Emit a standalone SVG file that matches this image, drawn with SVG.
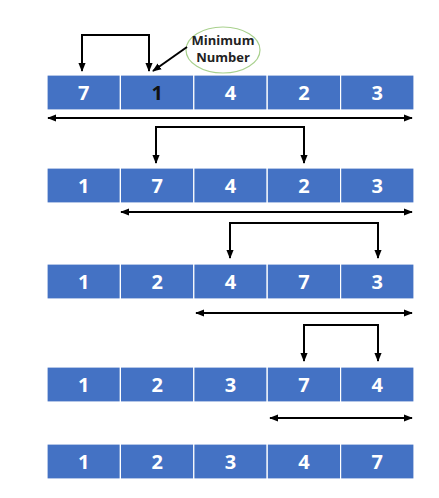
<svg xmlns="http://www.w3.org/2000/svg" width="439" height="498" viewBox="0 0 439 498">
<defs>
<marker id="ah" viewBox="0 0 10 10" refX="9" refY="5" markerWidth="4.5" markerHeight="4.5" orient="auto-start-reverse">
<path d="M0,1 L10,5 L0,9 z" fill="#000"/>
</marker>
<style>
.cell{fill:#4472C4;stroke:#ffffff;stroke-width:1.2}
.num{font-family:"Open Sans","Liberation Sans",sans-serif;font-weight:bold;font-size:20px;fill:#fff;text-anchor:middle}
.ln{fill:none;stroke:#000;stroke-width:2}
.lbl{font-family:"Open Sans","Liberation Sans",sans-serif;font-weight:bold;font-size:13px;fill:#222;text-anchor:middle}
</style>
</defs>
<rect width="439" height="498" fill="#fff"/>
<g id="row1">
<rect class="cell" x="47" y="75" width="73.4" height="35"/><rect class="cell" x="120.4" y="75" width="73.4" height="35"/><rect class="cell" x="193.8" y="75" width="73.4" height="35"/><rect class="cell" x="267.2" y="75" width="73.4" height="35"/><rect class="cell" x="340.6" y="75" width="73.4" height="35"/>
<text class="num" x="83.7" y="100">7</text><text class="num" x="157.1" y="100" style="fill:#111">1</text><text class="num" x="230.5" y="100">4</text><text class="num" x="303.9" y="100">2</text><text class="num" x="377.3" y="100">3</text>
</g>
<g id="row2">
<rect class="cell" x="47" y="168" width="73.4" height="35"/><rect class="cell" x="120.4" y="168" width="73.4" height="35"/><rect class="cell" x="193.8" y="168" width="73.4" height="35"/><rect class="cell" x="267.2" y="168" width="73.4" height="35"/><rect class="cell" x="340.6" y="168" width="73.4" height="35"/>
<text class="num" x="83.7" y="193">1</text><text class="num" x="157.1" y="193">7</text><text class="num" x="230.5" y="193">4</text><text class="num" x="303.9" y="193">2</text><text class="num" x="377.3" y="193">3</text>
</g>
<g id="row3">
<rect class="cell" x="47" y="264" width="73.4" height="35"/><rect class="cell" x="120.4" y="264" width="73.4" height="35"/><rect class="cell" x="193.8" y="264" width="73.4" height="35"/><rect class="cell" x="267.2" y="264" width="73.4" height="35"/><rect class="cell" x="340.6" y="264" width="73.4" height="35"/>
<text class="num" x="83.7" y="289">1</text><text class="num" x="157.1" y="289">2</text><text class="num" x="230.5" y="289">4</text><text class="num" x="303.9" y="289">7</text><text class="num" x="377.3" y="289">3</text>
</g>
<g id="row4">
<rect class="cell" x="47" y="367" width="73.4" height="35"/><rect class="cell" x="120.4" y="367" width="73.4" height="35"/><rect class="cell" x="193.8" y="367" width="73.4" height="35"/><rect class="cell" x="267.2" y="367" width="73.4" height="35"/><rect class="cell" x="340.6" y="367" width="73.4" height="35"/>
<text class="num" x="83.7" y="392">1</text><text class="num" x="157.1" y="392">2</text><text class="num" x="230.5" y="392">3</text><text class="num" x="303.9" y="392">7</text><text class="num" x="377.3" y="392">4</text>
</g>
<g id="row5">
<rect class="cell" x="47" y="444" width="73.4" height="35"/><rect class="cell" x="120.4" y="444" width="73.4" height="35"/><rect class="cell" x="193.8" y="444" width="73.4" height="35"/><rect class="cell" x="267.2" y="444" width="73.4" height="35"/><rect class="cell" x="340.6" y="444" width="73.4" height="35"/>
<text class="num" x="83.7" y="469">1</text><text class="num" x="157.1" y="469">2</text><text class="num" x="230.5" y="469">3</text><text class="num" x="303.9" y="469">4</text><text class="num" x="377.3" y="469">7</text>
</g>
<g id="callout">
<ellipse cx="223" cy="50" rx="37" ry="23" fill="#fff" stroke="#a9d18e" stroke-width="1.2"/>
<text class="lbl" x="223" y="45">Minimum</text>
<text class="lbl" x="223" y="62">Number</text>
</g>
<g id="connectors">
<path class="ln" d="M82,71 V35 H149 V71" marker-start="url(#ah)" marker-end="url(#ah)"/>
<line class="ln" x1="187" y1="47" x2="153" y2="71" marker-end="url(#ah)"/>
<line class="ln" x1="48" y1="118" x2="412" y2="118" marker-start="url(#ah)" marker-end="url(#ah)"/>
<path class="ln" d="M156,163 V127 H304 V163" marker-start="url(#ah)" marker-end="url(#ah)"/>
<line class="ln" x1="121" y1="212" x2="412" y2="212" marker-start="url(#ah)" marker-end="url(#ah)"/>
<path class="ln" d="M230,258 V223 H378 V258" marker-start="url(#ah)" marker-end="url(#ah)"/>
<line class="ln" x1="196" y1="313" x2="412" y2="313" marker-start="url(#ah)" marker-end="url(#ah)"/>
<path class="ln" d="M304,361 V325 H378 V361" marker-start="url(#ah)" marker-end="url(#ah)"/>
<line class="ln" x1="270" y1="418" x2="412" y2="418" marker-start="url(#ah)" marker-end="url(#ah)"/>
</g>
</svg>
